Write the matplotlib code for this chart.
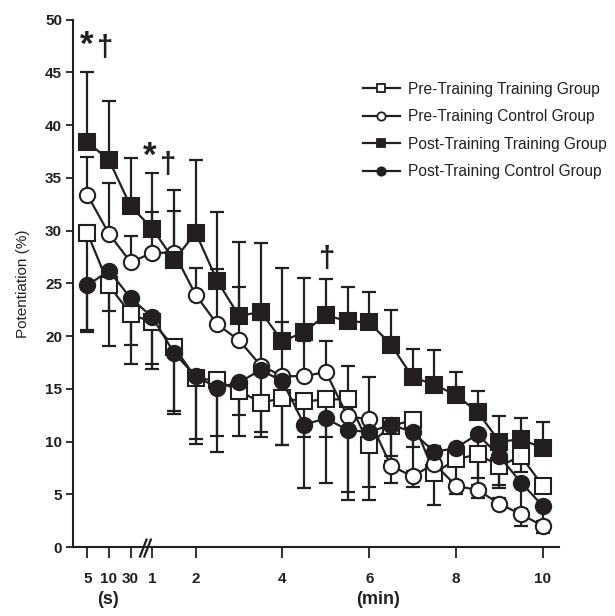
import numpy as np
import matplotlib
matplotlib.use('Agg')
import matplotlib.pyplot as plt
import matplotlib.transforms as mtransforms

plt.rcParams['font.family'] = ['Liberation Sans', 'DejaVu Sans']

# sampling times: 5 s, 10 s, 30 s, then every 30 s from 1 to 10 min
time_labels = ['5s', '10s', '30s', '1', '1.5', '2', '2.5', '3', '3.5', '4', '4.5',
               '5', '5.5', '6', '6.5', '7', '7.5', '8', '8.5', '9', '9.5', '10']
tick_names = ['5', '10', '30', '1', '2', '4', '6', '8', '10']
tick_times = ['5s', '10s', '30s', '1', '2', '4', '6', '8', '10']

pre_train = [29.8, 24.8, 22.1, 21.3, 19.0, 16.0, 15.8, 14.8, 13.7, 14.1, 13.8,
             14.0, 14.0, 9.7, 11.5, 12.0, 7.0, 8.3, 8.8, 7.7, 8.6, 5.8]
pre_train_lo = [20.6, 22.4, 19.2, 17.4, 12.9, 10.2, 9.0, 10.5, 10.9, 9.7, 10.4,
                10.4, 4.5, 5.7, 8.6, 9.5, 4.0, 5.0, 4.6, 5.6, 7.1, 5.2]
pre_ctrl = [33.4, 29.7, 27.0, 27.9, 27.9, 23.9, 21.1, 19.6, 17.2, 16.2, 16.2,
            16.6, 12.4, 12.1, 7.7, 6.7, 7.9, 5.8, 5.4, 4.1, 3.1, 2.0]
pre_ctrl_hi = [37.0, 34.5, 29.5, 31.8, 31.9, 26.5, 26.4, 24.7, 21.5, 21.3, 19.5,
               19.5, 17.2, 16.1, 8.2, 7.2, 9.6, 6.3, 5.9, 4.6, 3.6, 2.5]
post_train = [38.4, 36.7, 32.3, 30.2, 27.2, 29.8, 25.2, 21.9, 22.3, 19.5, 20.4,
              22.0, 21.4, 21.3, 19.2, 16.1, 15.4, 14.4, 12.8, 10.0, 10.2, 9.4]
post_train_hi = [45.0, 42.3, 36.9, 35.5, 33.9, 36.7, 31.8, 28.9, 28.8, 26.5, 25.5,
                 25.4, 24.7, 24.2, 22.5, 18.8, 18.7, 16.6, 14.8, 12.4, 12.2, 11.9]
post_ctrl = [24.8, 26.2, 23.6, 21.8, 18.4, 16.2, 15.1, 15.6, 16.8, 15.7, 11.6,
             12.2, 11.1, 10.9, 11.6, 10.9, 9.0, 9.4, 10.7, 8.6, 6.1, 3.9]
post_ctrl_lo = [20.4, 19.1, 17.4, 16.9, 12.6, 9.8, 10.5, 12.5, 10.4, 9.7, 5.6,
                6.1, 5.2, 4.5, 6.1, 5.7, 6.5, 7.7, 6.5, 5.9, 2.0, 1.3]

x = np.arange(len(time_labels))
tick_pos = [time_labels.index(t) for t in tick_times]

col = '#231f20'
fig = plt.figure(figsize=(6.15, 6.16), dpi=100)
ax = fig.add_axes([0.119, 0.112, 0.79, 0.856])

series = [
    (pre_train, pre_train_lo, 'down', 's', 'white', 'Pre-Training Training Group'),
    (pre_ctrl, pre_ctrl_hi, 'up', 'o', 'white', 'Pre-Training Control Group'),
    (post_train, post_train_hi, 'up', 's', col, 'Post-Training Training Group'),
    (post_ctrl, post_ctrl_lo, 'down', 'o', col, 'Post-Training Control Group'),
]
handles = []
for vals, lim, side, mk, fc, lab in series:
    vals = np.array(vals)
    lim = np.array(lim)
    if side == 'up':
        err = [np.zeros_like(vals), lim - vals]
    else:
        err = [vals - lim, np.zeros_like(vals)]
    ax.errorbar(x, vals, yerr=err, fmt='none', ecolor=col, elinewidth=1.6,
                capsize=5, capthick=1.6, zorder=2)
    ax.plot(x, vals, '-', color=col, lw=1.6, marker=mk, ms=11, mfc=fc,
            mec=col, mew=1.5, zorder=3)
    h, = ax.plot([], [], '-', color=col, lw=1.6, marker=mk, ms=6, mfc=fc,
                 mec=col, mew=1.3, label=lab)
    handles.append(h)

ax.set_xlim(-0.65, 21.75)
ax.set_ylim(0, 50)
ax.set_yticks(np.arange(0, 51, 5))
ax.set_xticks(tick_pos)
ax.set_xticklabels(tick_names)
for s in ['top', 'right']:
    ax.spines[s].set_visible(False)
for s in ['left', 'bottom']:
    ax.spines[s].set_linewidth(1.5)
    ax.spines[s].set_color(col)
ax.tick_params(axis='y', direction='out', length=5, width=1.3, color=col,
               labelsize=11, pad=3)
ax.tick_params(axis='x', direction='out', length=8, width=1.3, color=col,
               labelsize=11, pad=10)
for t in ax.get_xticklabels() + ax.get_yticklabels():
    t.set_fontweight('bold')
    t.set_color(col)
ax.set_ylabel('Potentiation (%)', fontsize=11, color=col, labelpad=11)

# axis break between 30 s and 1 min
trans = mtransforms.blended_transform_factory(ax.transData, ax.transAxes)
for dx in (-0.12, 0.08):
    ax.plot([2.55 + dx, 2.85 + dx], [-0.018, 0.014], color=col, lw=1.6,
            transform=trans, clip_on=False)

fig.text(0.175, 0.02, '(s)', fontsize=13, fontweight='bold', color=col, ha='center')
fig.text(0.615, 0.02, '(min)', fontsize=13, fontweight='bold', color=col, ha='center')

# significance marks
for sx, sy, sym in [(-0.05, 47.6, '*'), (0.8, 47.3, '\u2020'),
                    (2.9, 37.0, '*'), (3.73, 36.2, '\u2020'),
                    (11.06, 27.3, '\u2020')]:
    ax.text(sx, sy, sym, fontsize=25 if sym == '*' else 21, color=col,
            fontweight='bold', ha='center', va='center')

fig.legend(handles=handles, loc='upper left', bbox_to_anchor=(0.567, 0.89),
           frameon=False, fontsize=11.2, handlelength=2.4, handletextpad=0.5,
           labelspacing=0.8, labelcolor=col)

fig.savefig('out.png', dpi=100)
